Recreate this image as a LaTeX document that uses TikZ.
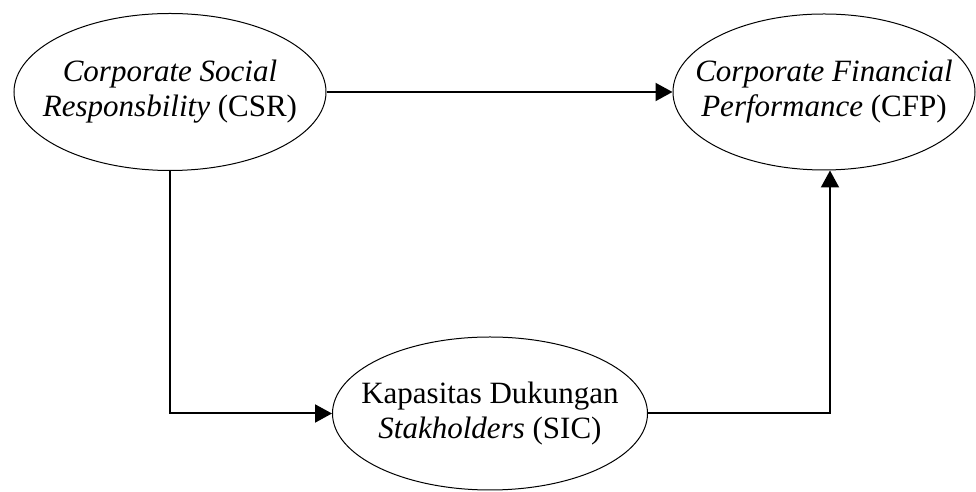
\documentclass[tikz,border=0pt]{standalone}
\usepackage{fontspec}
\newfontfamily\diagfont{Liberation Serif}
\usetikzlibrary{shapes.geometric,arrows.meta}

\begin{document}
\begin{tikzpicture}[x=1pt,y=1pt,
   var/.style={draw,ellipse,line width=0.5pt,inner sep=-20pt,align=center,
    font=\diagfont\fontsize{15.5}{17.5}\selectfont},
   link/.style={line width=1pt,-{Triangle[length=8.5pt,width=9pt]}}]
   \useasboundingbox (0,0) rectangle (488,246);
   \node[var,minimum width=156pt,minimum height=78.5pt] (csr) at (85,200)
    {\textit{Corporate Social}\\\textit{Responsbility} (CSR)};
   \node[var,minimum width=151pt,minimum height=78pt] (cfp) at (412,200)
    {\textit{Corporate Financial}\\\textit{Performance} (CFP)};
   \node[var,minimum width=157.5pt,minimum height=76.5pt] (sic) at (245,39.25)
    {Kapasitas Dukungan\\\textit{Stakholders} (SIC)};
   \draw[link] (csr.east) -- (cfp.west);
   \draw[link] (csr.south) |- (sic.west);
   \draw[link] (sic.east) -| ([xshift=3pt]cfp.south);
  \end{tikzpicture}
\end{document}
